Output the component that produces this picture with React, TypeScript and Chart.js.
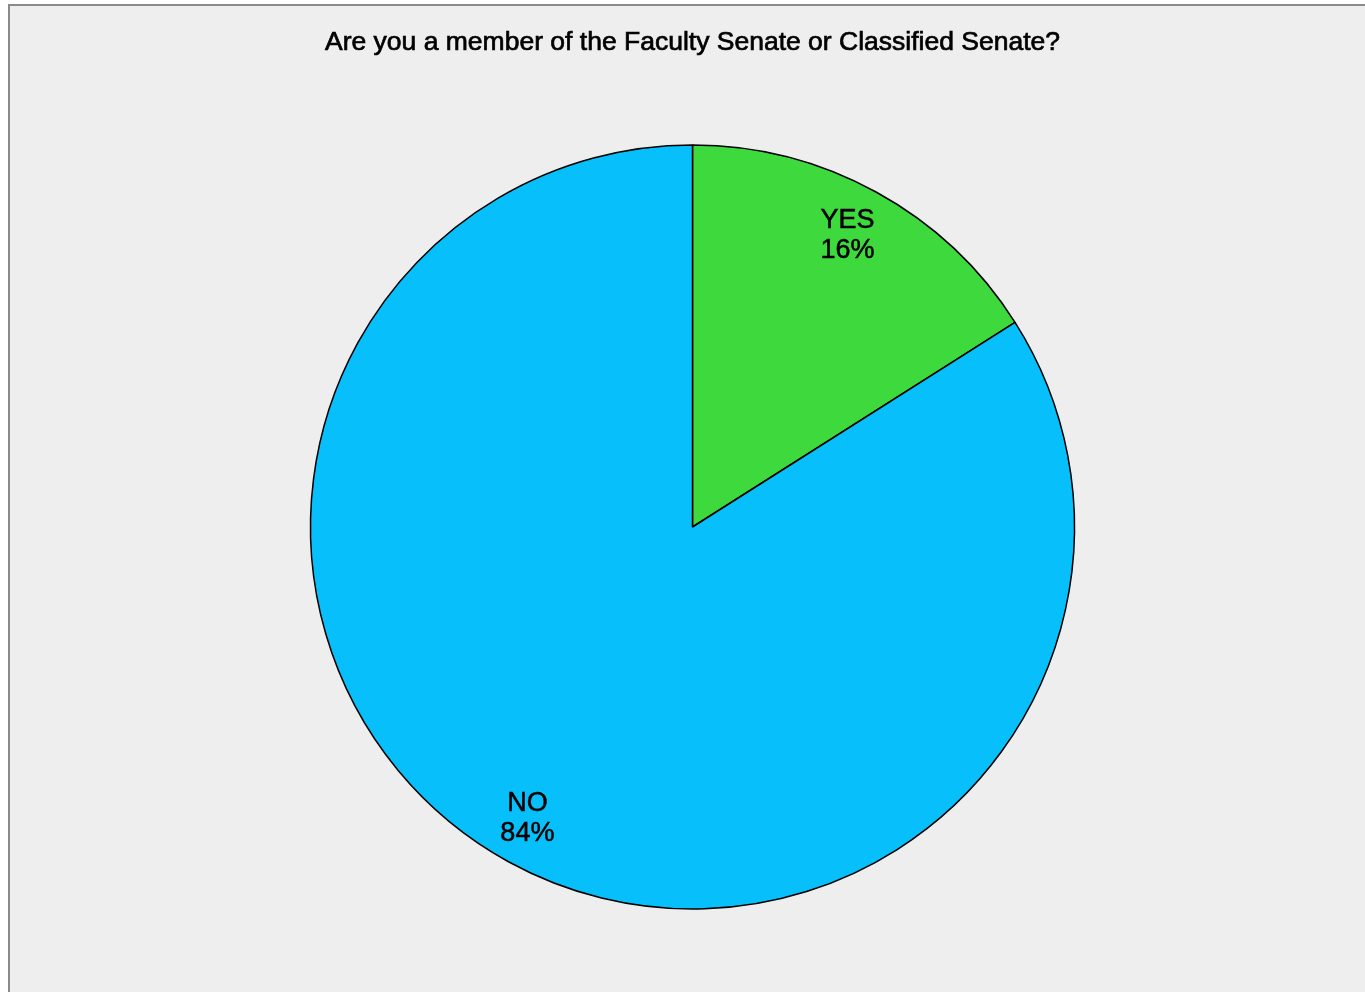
import React, { useEffect, useRef } from "react";
import { Chart, registerables } from "chart.js";

Chart.register(...registerables);

const chartTitle = "Are you a member of the Faculty Senate or Classified Senate?";
const categories = ["YES", "NO"];
const values = [16, 84];
const sliceColors = ["#3dd93d", "#06bffb"];

const CX = 692.5;
const CY = 527;
const R = 382;
const W = 1365;
const H = 992;

const labelPlugin = {
  id: "sliceLabels",
  afterDatasetsDraw(chart: any) {
    const ctx = chart.ctx;
    const meta = chart.getDatasetMeta(0);
    const total = values.reduce((a, b) => a + b, 0);
    ctx.save();
    ctx.fillStyle = "#000";
    ctx.strokeStyle = "#000";
    ctx.lineWidth = 0.5;
    ctx.font = "27px 'Liberation Sans', Arial, sans-serif";
    ctx.textAlign = "center";
    ctx.textBaseline = "middle";
    meta.data.forEach((arc: any, i: number) => {
      const p = arc.getProps(["x", "y", "startAngle", "endAngle", "outerRadius"], true);
      const mid = (p.startAngle + p.endAngle) / 2;
      const d = p.outerRadius * 0.87;
      const x = p.x + Math.cos(mid) * d - 5;
      const y = p.y + Math.sin(mid) * d;
      const pct = Math.round((values[i] / total) * 100) + "%";
      ctx.fillText(categories[i], x, y - 15);
      ctx.strokeText(categories[i], x, y - 15);
      ctx.fillText(pct, x, y + 15);
      ctx.strokeText(pct, x, y + 15);
    });
    ctx.restore();
  },
};

const titlePlugin = {
  id: "topTitle",
  afterDraw(chart: any) {
    const ctx = chart.ctx;
    ctx.save();
    ctx.fillStyle = "#000";
    ctx.strokeStyle = "#000";
    ctx.lineWidth = 0.7;
    ctx.font = "26.5px 'Liberation Sans', Arial, sans-serif";
    ctx.textAlign = "center";
    ctx.textBaseline = "alphabetic";
    ctx.fillText(chartTitle, CX, 50);
    ctx.strokeText(chartTitle, CX, 50);
    ctx.restore();
  },
};

export default function App() {
  const ref = useRef<HTMLCanvasElement>(null);
  useEffect(() => {
    if (!ref.current) return;
    const padL = 40;
    const padR = 20;
    const padT = 100;
    const padB = 38;
    const chart = new Chart(ref.current, {
      type: "pie",
      data: {
        labels: categories,
        datasets: [
          {
            data: values,
            backgroundColor: sliceColors,
            borderColor: "#000",
            borderWidth: 1.5,
            radius: R,
          } as any,
        ],
      },
      options: {
        animation: false,
        responsive: false,
        maintainAspectRatio: false,
        layout: { padding: { left: padL, right: padR, top: padT, bottom: padB } },
        plugins: {
          legend: { display: false },
          tooltip: { enabled: false },
          title: { display: false },
        },
      },
      plugins: [labelPlugin, titlePlugin],
    });
    return () => chart.destroy();
  }, []);

  return (
    <div style={{ position: "absolute", left: 0, top: 0, width: W, height: H, background: "#fff", overflow: "hidden" }}>
      <div
        style={{
          position: "absolute",
          left: 8,
          top: 4,
          width: W,
          height: H,
          background: "#eeeeee",
          borderLeft: "2px solid #8a8a8a",
          borderTop: "2px solid #8a8a8a",
        }}
      />
      <canvas ref={ref} width={W} height={H} style={{ position: "absolute", left: 0, top: 0, width: W, height: H }} />
    </div>
  );
}
